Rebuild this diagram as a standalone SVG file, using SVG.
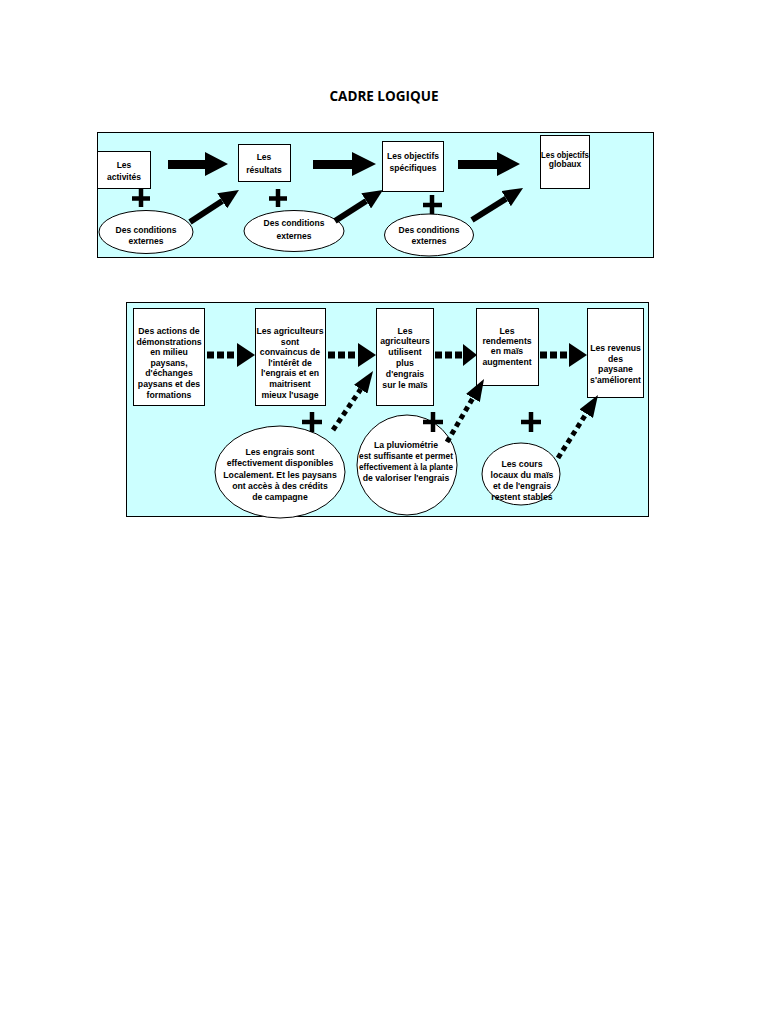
<svg xmlns="http://www.w3.org/2000/svg" width="768" height="1024" viewBox="0 0 768 1024">
<style>
  .panel{fill:#ccffff;stroke:#000;stroke-width:1}
  .box{fill:#fff;stroke:#000;stroke-width:1}
  .ell{fill:#fff;stroke:#000;stroke-width:1}
  .t{font-family:"Liberation Sans",Arial,sans-serif;font-weight:bold;font-size:8.5px;fill:#000;text-anchor:middle}
  .t2{font-family:"Liberation Sans",Arial,sans-serif;font-weight:bold;font-size:8.7px;fill:#000;text-anchor:middle}
  .title{font-family:"Open Sans","Liberation Sans",sans-serif;font-weight:bold;font-size:13.5px;fill:#000;text-anchor:middle}
  .big{fill:#000}
  .diag{stroke:#000;stroke-width:6;fill:none}
  .dots{stroke:#000;stroke-width:5;stroke-dasharray:5 4;fill:none}
  .hdots{stroke:#000;stroke-width:7;stroke-dasharray:7 3;fill:none}
  .plus{stroke:#000;stroke-width:4.5;fill:none}
</style>
<defs>
  <marker id="shead" markerUnits="userSpaceOnUse" viewBox="0 0 20 18" refX="0" refY="9" markerWidth="20" markerHeight="18" orient="auto">
    <path d="M0,0 L20,9 L0,18 z" fill="#000"/>
  </marker>
  <marker id="dhead" markerUnits="userSpaceOnUse" viewBox="0 0 22 16" refX="0" refY="8" markerWidth="22" markerHeight="16" orient="auto">
    <path d="M0,0 L22,8 L0,16 z" fill="#000"/>
  </marker>
</defs>
<rect width="768" height="1024" fill="#fff"/>
<text class="title" x="384" y="101">CADRE LOGIQUE</text>

<!-- Panel 1 -->
<rect class="panel" x="97.5" y="132.5" width="556" height="125"/>

<g id="n-activites">
  <rect class="box" x="97.5" y="151.5" width="53" height="37"/>
  <text class="t" x="124" y="168">Les</text>
  <text class="t" x="124" y="180">activités</text>
</g>
<g id="n-resultats">
  <rect class="box" x="238.5" y="144.5" width="52" height="37"/>
  <text class="t" x="264" y="160">Les</text>
  <text class="t" x="264" y="173">résultats</text>
</g>
<g id="n-obj-specifiques">
  <rect class="box" x="382.5" y="141.5" width="61" height="50"/>
  <text class="t" x="413" y="159">Les objectifs</text>
  <text class="t" x="413" y="171">spécifiques</text>
</g>
<g id="n-obj-globaux">
  <rect class="box" x="540.5" y="135.5" width="49" height="53"/>
  <text class="t" x="565" y="158" textLength="48" lengthAdjust="spacingAndGlyphs">Les objectifs</text>
  <text class="t" x="565" y="167">globaux</text>
</g>
<g id="n-cond1">
  <ellipse class="ell" cx="146" cy="232" rx="47" ry="21.5"/>
  <text class="t" x="146" y="233">Des conditions</text>
  <text class="t" x="146" y="244">externes</text>
</g>
<g id="n-cond2">
  <ellipse class="ell" cx="294" cy="231" rx="50" ry="20.5"/>
  <text class="t" x="294" y="226">Des conditions</text>
  <text class="t" x="294" y="239">externes</text>
</g>
<g id="n-cond3">
  <ellipse class="ell" cx="429" cy="235" rx="44.5" ry="21"/>
  <text class="t" x="429" y="233">Des conditions</text>
  <text class="t" x="429" y="244">externes</text>
</g>

<g id="connectors1">
  <polygon class="big" points="168,160 205,160 205,152 228,164 205,176 205,169 168,169"/>
  <polygon class="big" points="313,160 352,160 352,152 376,164 352,176 352,169 313,169"/>
  <polygon class="big" points="458,160 497,160 497,152 520,164 497,176 497,169 458,169"/>
  <line class="diag" x1="190" y1="222" x2="222.2" y2="200.9" marker-end="url(#shead)"/>
  <line class="diag" x1="335" y1="221" x2="366.2" y2="200.9" marker-end="url(#shead)"/>
  <line class="diag" x1="472" y1="220" x2="506.1" y2="198.6" marker-end="url(#shead)"/>
  <path class="plus" d="M141,189 V207 M132,198.5 H150"/>
  <path class="plus" d="M278,189 V207 M269,198.5 H287"/>
  <path class="plus" d="M432,195 V214 M423,205 H442"/>
</g>

<!-- Panel 2 -->
<rect class="panel" x="126.5" y="302.5" width="522" height="214"/>

<g id="n-actions">
  <rect class="box" x="133.5" y="308.5" width="71" height="97"/>
  <text class="t2" x="169" y="334">Des actions de</text>
  <text class="t2" x="169" y="345">démonstrations</text>
  <text class="t2" x="169" y="355">en milieu</text>
  <text class="t2" x="169" y="366">paysans,</text>
  <text class="t2" x="169" y="376">d'échanges</text>
  <text class="t2" x="169" y="387">paysans et des</text>
  <text class="t2" x="169" y="398">formations</text>
</g>
<g id="n-convaincus">
  <rect class="box" x="255.5" y="308.5" width="70" height="97"/>
  <text class="t2" x="290" y="334">Les agriculteurs</text>
  <text class="t2" x="290" y="345">sont</text>
  <text class="t2" x="290" y="355">convaincus de</text>
  <text class="t2" x="290" y="366">l'intérêt de</text>
  <text class="t2" x="290" y="376">l'engrais et en</text>
  <text class="t2" x="290" y="387">maitrisent</text>
  <text class="t2" x="290" y="398">mieux l'usage</text>
</g>
<g id="n-utilisent">
  <rect class="box" x="376.5" y="308.5" width="57" height="97"/>
  <text class="t2" x="405" y="334">Les</text>
  <text class="t2" x="405" y="344">agriculteurs</text>
  <text class="t2" x="405" y="355">utilisent</text>
  <text class="t2" x="405" y="366">plus</text>
  <text class="t2" x="405" y="377">d'engrais</text>
  <text class="t2" x="405" y="388">sur le maïs</text>
</g>
<g id="n-rendements">
  <rect class="box" x="476.5" y="308.5" width="62" height="77"/>
  <text class="t2" x="507" y="334">Les</text>
  <text class="t2" x="507" y="344">rendements</text>
  <text class="t2" x="507" y="354">en maïs</text>
  <text class="t2" x="507" y="365">augmentent</text>
</g>
<g id="n-revenus">
  <rect class="box" x="587.5" y="308.5" width="56" height="89"/>
  <text class="t2" x="615.5" y="351">Les revenus</text>
  <text class="t2" x="615.5" y="362">des</text>
  <text class="t2" x="615.5" y="372">paysane</text>
  <text class="t2" x="615.5" y="383">s'améliorent</text>
</g>
<g id="n-engrais-dispo">
  <ellipse class="ell" cx="280" cy="472" rx="65" ry="46"/>
  <text class="t2" x="280" y="455">Les engrais sont</text>
  <text class="t2" x="280" y="466">effectivement disponibles</text>
  <text class="t2" x="280" y="478">Localement. Et les paysans</text>
  <text class="t2" x="280" y="489">ont accès à des crédits</text>
  <text class="t2" x="280" y="500">de campagne</text>
</g>
<g id="n-pluvio">
  <ellipse class="ell" cx="407" cy="465" rx="50" ry="50"/>
  <text class="t2" x="406" y="448">La pluviométrie</text>
  <text class="t2" x="406" y="459" textLength="94" lengthAdjust="spacingAndGlyphs">est suffisante et permet</text>
  <text class="t2" x="406" y="470" textLength="94" lengthAdjust="spacingAndGlyphs">effectivement à la plante</text>
  <text class="t2" x="406" y="481">de valoriser l'engrais</text>
</g>
<g id="n-cours">
  <ellipse class="ell" cx="521" cy="474" rx="39" ry="31"/>
  <text class="t2" x="522" y="467">Les cours</text>
  <text class="t2" x="522" y="478">locaux du maïs</text>
  <text class="t2" x="522" y="489">et de l'engrais</text>
  <text class="t2" x="522" y="500">restent stables</text>
</g>

<g id="connectors2">
  <line class="hdots" x1="207" y1="355" x2="234" y2="355"/>
  <polygon class="big" points="237,343 255,355 237,367"/>
  <line class="hdots" x1="328" y1="355" x2="355" y2="355"/>
  <polygon class="big" points="358,343 376,355 358,367"/>
  <line class="hdots" x1="435" y1="355" x2="462" y2="355"/>
  <polygon class="big" points="463,344 477,355 463,366"/>
  <line class="hdots" x1="540" y1="355" x2="567" y2="355"/>
  <polygon class="big" points="569,343 587,355 569,367"/>
  <line class="dots" x1="333" y1="430" x2="360.7" y2="389.2" marker-end="url(#dhead)"/>
  <line class="dots" x1="447" y1="442" x2="472.9" y2="398" marker-end="url(#dhead)"/>
  <line class="dots" x1="558" y1="458" x2="586.2" y2="413.6" marker-end="url(#dhead)"/>
  <path class="plus" d="M312,412 V432 M302,422 H322"/>
  <path class="plus" d="M433,412 V432 M423,422 H443"/>
  <path class="plus" d="M531,412 V432 M521,422 H541"/>
</g>
</svg>
